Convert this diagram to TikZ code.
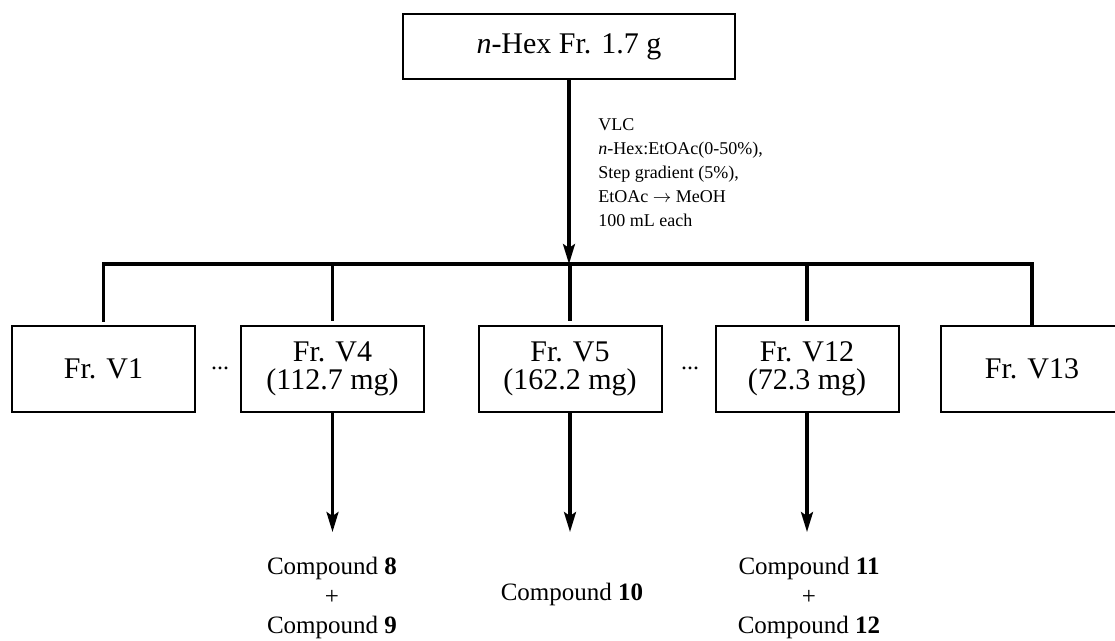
\documentclass[tikz,border=0pt]{standalone}
\usepackage{fontspec}
\setmainfont{Liberation Serif}
\usetikzlibrary{arrows.meta}

\begin{document}
\begin{tikzpicture}[x=0.5pt, y=-0.5pt,
    frbox/.style={draw, line width=1pt, minimum width=91.5pt, minimum height=43pt,
        inner sep=0pt, align=center, font=\fontsize{15}{14}\selectfont},
    link/.style={line width=1.8pt},
    arr/.style={line width=1.6pt, -{Stealth[length=10pt, width=6pt, inset=2pt]}},
    cmpd/.style={align=center, font=\fontsize{12.5}{14.75}\selectfont}]
    \useasboundingbox (0,0) rectangle (1115,641);

    % Starting fraction
    \node[draw, line width=1pt, minimum width=166pt, minimum height=32.5pt,
        font=\fontsize{15}{18}\selectfont] (hexfr) at (569,46.5) {\textit{n}-Hex Fr. 1.7 g};

    % VLC conditions
    \node[anchor=west, align=left, inner sep=0pt, font=\fontsize{9}{12}\selectfont] (vlc) at (598,173)
        {VLC\\\textit{n}-Hex:EtOAc(0-50\%),\\Step gradient (5\%),\\EtOAc $\rightarrow$ MeOH\\100 mL each};

    % Fractions from VLC
    \foreach \name/\x/\label in {frVa/103.5/{Fr. V1}, frVd/332.5/{Fr. V4\\(112.7 mg)},
            frVe/570/{Fr. V5\\(162.2 mg)}, frVl/807/{Fr. V12\\(72.3 mg)}, frVm/1032/{Fr. V13}} {
        \node[frbox] (\name) at (\x,369) {\label};
    }
    \node[font=\fontsize{12}{14}\selectfont, inner sep=0pt] (dotsA) at (220,368) {...};
    \node[font=\fontsize{12}{14}\selectfont, inner sep=0pt] (dotsB) at (690,368) {...};

    % Split bar
    \coordinate (barL) at (103.5,264);
    \coordinate (barR) at (1032,264);
    \draw[arr] (hexfr.south) -- (hexfr.south |- barL);
    \draw[link, shorten <=1.5pt] (frVa.north) -- (barL) -- (barR) -- (frVm.north);
    \foreach \name in {frVd, frVe, frVl} {
        \draw[link, shorten >=2pt] (\name.north |- barL) -- (\name.north);
    }

    % Isolated compounds
    \coordinate (tipVd) at (332.5,532);
    \coordinate (tipVe) at (570,532);
    \coordinate (tipVl) at (807,532);
    \draw[arr] (frVd.south) -- (tipVd);
    \draw[arr] (frVe.south) -- (tipVe);
    \draw[arr] (frVl.south) -- (tipVl);

    \node[cmpd] (cmpdVd) at (332,598) {Compound \textbf{8}\\+\\Compound \textbf{9}};
    \node[cmpd] (cmpdVe) at (572,594) {Compound \textbf{10}};
    \node[cmpd] (cmpdVl) at (809,598) {Compound \textbf{11}\\+\\Compound \textbf{12}};
\end{tikzpicture}
\end{document}
